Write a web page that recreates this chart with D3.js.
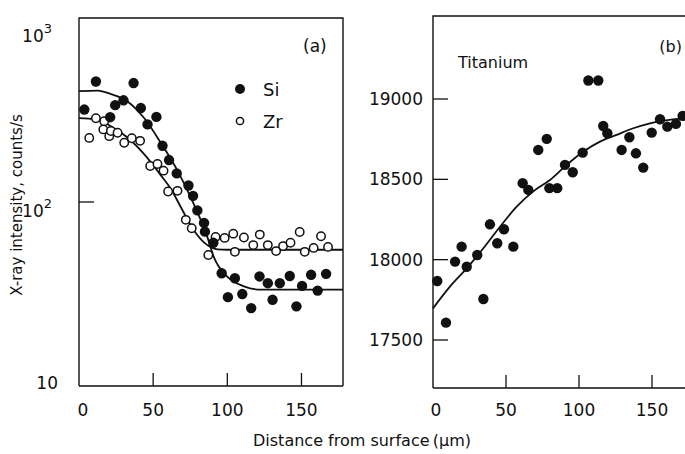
<!DOCTYPE html>
<html>
<head>
<meta charset="utf-8">
<script src="https://cdn.jsdelivr.net/npm/d3@7"></script>
<style>
  body { margin: 0; background: #fff; }
  text { font-family: "DejaVu Sans", sans-serif; fill: #111; }
</style>
</head>
<body>
<div id="chart"></div>
<script>
// panel (a): Si and Zr, log scale
var siX = [3.6, 11.4, 21, 24.4, 30, 36.8, 41.7, 46.2, 52.2, 56.3, 60.7, 65.9, 73.8, 76.9, 79.8, 84.3, 84.9, 90.6,
  96.2, 100.4, 105.1, 110.1, 116.1, 121.7, 127.3, 130.5, 135.4, 142.1, 146.6, 150.4, 156.5, 160.9, 166.6];
var siY = [318, 452, 289, 336, 357, 443, 324, 264, 290, 202, 169, 143, 123, 108, 90, 77, 69, 60,
  41, 30.4, 38.5, 31.6, 26.5, 39.4, 36.2, 29.4, 36.2, 39.6, 27.1, 35, 40.2, 33, 40.7];
var zrX = [6.9, 11.4, 16.4, 17, 20.4, 21.5, 26, 30.5, 35.6, 41.2, 48, 52.9, 57, 60.1, 66.4, 72, 76, 87.2, 92.1,
  98.2, 104, 105.1, 111.2, 117.5, 121.9, 127.3, 132.9, 137.6, 142.6, 148.8, 152.2, 158.2, 163.2, 167.9];
var zrY = [223, 285, 248, 275, 228, 243, 238, 210, 222, 215, 157, 161, 148, 114, 115, 80, 72, 51.5, 64.6,
  63.8, 67.3, 53.6, 64.1, 58.3, 66.5, 58.3, 54.1, 57.6, 60, 68.7, 53.6, 56.3, 65.2, 57];
var siFitX = [0, 12.6, 21.5, 32.7, 43.9, 55.1, 66.4, 75.3, 86.5, 91, 100, 111.2, 122.4, 178];
var siFitY = [400, 403, 386, 352, 286, 210, 148, 106, 64.6, 50, 39.3, 34.8, 33.4, 33.4];
var zrFitX = [0, 11.4, 21.5, 32.7, 43.9, 55.1, 61.9, 68.6, 77.5, 86.5, 93.3, 100, 178];
var zrFitY = [286, 281, 258, 224, 182, 140, 118, 94, 70, 58.3, 55.3, 55, 55];

// panel (b): titanium
var tiX = [2.9, 8.9, 15.1, 19.6, 23.1, 30.3, 34.5, 39, 44, 48.6, 55, 61.4, 65.3, 72.1, 77.9, 79.7, 85.1, 90.4,
  95.7, 102.5, 106.4, 113.2, 116.6, 119.4, 129.2, 134.5, 139, 144, 149.8, 155.5, 160.5, 166.4, 171];
var tiY = [17867, 17608, 17988, 18081, 17956, 18029, 17755, 18220, 18102, 18189, 18081, 18476, 18434, 18683,
  18752, 18445, 18445, 18590, 18544, 18666, 19115, 19115, 18832, 18787, 18683, 18762, 18662, 18573, 18791,
  18874, 18828, 18845, 18895];
var tiFitX = [0, 11.6, 23.1, 34.5, 45.9, 57.3, 68.7, 80.1, 91.6, 103, 114.4, 125.8, 137.2, 148.6, 171.4, 180];
var tiFitY = [17697, 17832, 17946, 18071, 18205, 18330, 18425, 18496, 18590, 18673, 18735, 18777, 18818, 18849, 18880, 18886];

var xTicks = [0, 50, 100, 150];
var aTicks = [10, 100, 1000];
var aTickExp = ["", "2", "3"];
var bTicks = [17500, 18000, 18500, 19000];

var svg = d3.select("#chart").append("svg")
  .attr("width", 685)
  .attr("height", 454);

function frame(g, x0, x1, y0, y1) {
  g.append("path")
    .attr("d", `M${x0},${y1}V${y0}H${x1}` + (x1 < 685 ? `V${y1}` : "") + `M${x0},${y1}H${x1}`)
    .attr("fill", "none")
    .attr("stroke", "#111")
    .attr("stroke-width", 1.4);
}

var line = d3.line().curve(d3.curveMonotoneX);

// ---- panel (a)
var xa = d3.scaleLinear().domain([0, 178]).range([79, 343]);
var ya = d3.scaleLog().domain([10, 1000]).range([386, 18]);
var ga = svg.append("g");
frame(ga, 79, 343, 18, 386);

ga.selectAll(".xt").data(xTicks.slice(1)).enter().append("line")
  .attr("x1", d => xa(d)).attr("x2", d => xa(d))
  .attr("y1", 386).attr("y2", 373)
  .attr("stroke", "#111").attr("stroke-width", 1.3);
ga.append("line")
  .attr("x1", 79).attr("x2", 94).attr("y1", ya(100)).attr("y2", ya(100))
  .attr("stroke", "#111").attr("stroke-width", 1.3);

ga.selectAll(".xl").data(xTicks).enter().append("text")
  .attr("x", d => xa(d) + (d == 0 ? 4 : 0)).attr("y", 416)
  .attr("text-anchor", "middle").attr("font-size", 17)
  .text(d => d);

var yl = ga.selectAll(".yl").data(aTicks).enter().append("text")
  .attr("x", (d, i) => i == 0 ? 58 : 52)
  .attr("y", (d, i) => [389, 217, 42][i])
  .attr("text-anchor", "end").attr("font-size", 17);
yl.append("tspan").text("10");
yl.append("tspan").attr("dy", -9).attr("font-size", 13).text((d, i) => aTickExp[i]);

ga.append("path")
  .attr("d", line(siFitX.map((d, i) => [xa(d), ya(siFitY[i])])))
  .attr("fill", "none").attr("stroke", "#111").attr("stroke-width", 1.8);
ga.append("path")
  .attr("d", line(zrFitX.map((d, i) => [xa(d), ya(zrFitY[i])])))
  .attr("fill", "none").attr("stroke", "#111").attr("stroke-width", 1.8);

ga.selectAll(".zr").data(zrX).enter().append("circle")
  .attr("cx", d => xa(d)).attr("cy", (d, i) => ya(zrY[i]))
  .attr("r", 4.2).attr("fill", "#fff").attr("stroke", "#111").attr("stroke-width", 1.5);
ga.selectAll(".si").data(siX).enter().append("circle")
  .attr("cx", d => xa(d)).attr("cy", (d, i) => ya(siY[i]))
  .attr("r", 5.2).attr("fill", "#111");

ga.append("text").attr("x", 303).attr("y", 52).attr("font-size", 17).text("(a)");
ga.append("circle").attr("cx", 240).attr("cy", 89).attr("r", 5).attr("fill", "#111");
ga.append("text").attr("x", 263).attr("y", 96).attr("font-size", 18).text("Si");
ga.append("circle").attr("cx", 240).attr("cy", 121).attr("r", 3.6)
  .attr("fill", "#fff").attr("stroke", "#111").attr("stroke-width", 1.5);
ga.append("text").attr("x", 263).attr("y", 128).attr("font-size", 18).text("Zr");

// ---- panel (b)
var xb = d3.scaleLinear().domain([0, 150]).range([433, 652]);
var yb = d3.scaleLinear().domain([17500, 19000]).range([340, 99]);
var gb = svg.append("g");
frame(gb, 433, 690, 16, 388);

gb.selectAll(".xt").data(xTicks.slice(1)).enter().append("line")
  .attr("x1", d => xb(d)).attr("x2", d => xb(d))
  .attr("y1", 388).attr("y2", 375)
  .attr("stroke", "#111").attr("stroke-width", 1.3);
gb.selectAll(".yt").data(bTicks).enter().append("line")
  .attr("x1", 433).attr("x2", 448)
  .attr("y1", d => yb(d)).attr("y2", d => yb(d))
  .attr("stroke", "#111").attr("stroke-width", 1.3);

gb.selectAll(".xl").data(xTicks).enter().append("text")
  .attr("x", d => xb(d) + (d == 0 ? 3 : 0)).attr("y", 416)
  .attr("text-anchor", "middle").attr("font-size", 17)
  .text(d => d);
gb.selectAll(".yl").data(bTicks).enter().append("text")
  .attr("x", 423).attr("y", d => yb(d) + 6)
  .attr("text-anchor", "end").attr("font-size", 17)
  .text(d => d);

gb.append("path")
  .attr("d", line(tiFitX.map((d, i) => [xb(d), yb(tiFitY[i])])))
  .attr("fill", "none").attr("stroke", "#111").attr("stroke-width", 1.8);
gb.selectAll(".ti").data(tiX).enter().append("circle")
  .attr("cx", d => xb(d)).attr("cy", (d, i) => yb(tiY[i]))
  .attr("r", 5.2).attr("fill", "#111");

gb.append("text").attr("x", 458).attr("y", 68).attr("font-size", 16).text("Titanium");
gb.append("text").attr("x", 682).attr("y", 52).attr("text-anchor", "end")
  .attr("font-size", 16).text("(b)");

// axis titles
svg.append("text")
  .attr("transform", "translate(22,205) rotate(-90)")
  .attr("text-anchor", "middle").attr("font-size", 15)
  .text("X-ray intensity, counts/s");
svg.append("text")
  .attr("x", 362).attr("y", 446)
  .attr("text-anchor", "middle").attr("font-size", 16)
  .text("Distance from surface\u2009(μm)");
</script>
</body>
</html>
